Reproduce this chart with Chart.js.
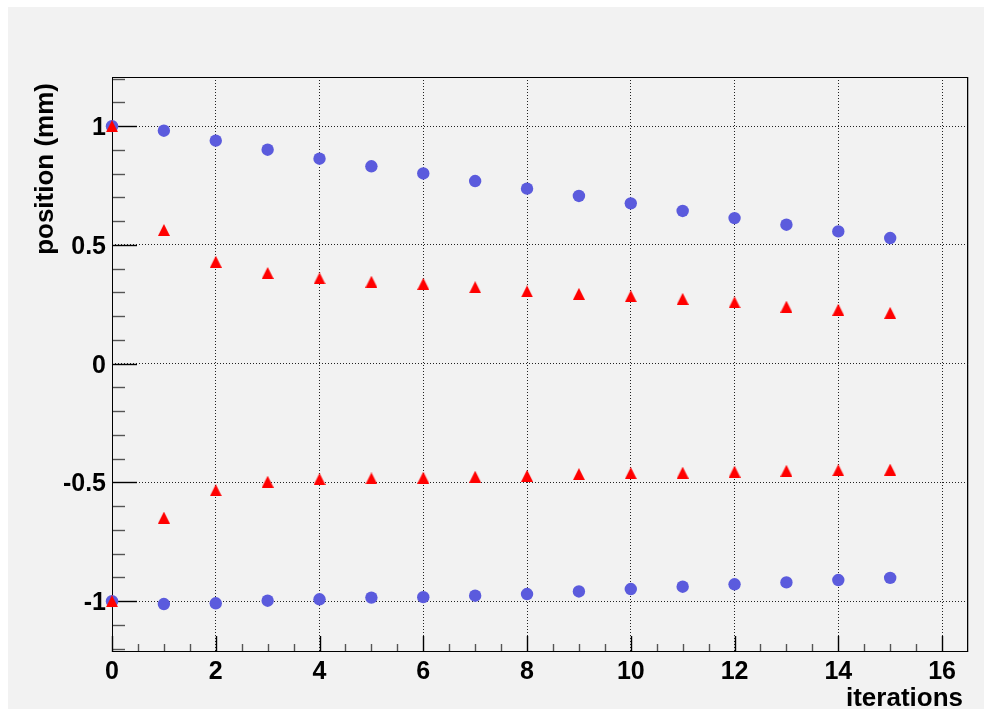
<!DOCTYPE html>
<html>
<head>
<meta charset="utf-8">
<script src="https://cdn.jsdelivr.net/npm/chart.js@4/dist/chart.umd.min.js"></script>
<style>
  html, body { margin: 0; padding: 0; background: #ffffff; }
  canvas { display: block; }
</style>
</head>
<body>
<canvas id="c" width="984" height="710"></canvas>
<script>
// Iteration index on the x axis
const iterations = [0, 1, 2, 3, 4, 5, 6, 7, 8, 9, 10, 11, 12, 13, 14, 15];

// Blue circles: outer pair of positions (mm)
const circlesUpper = [1.000, 0.981, 0.939, 0.901, 0.863, 0.831, 0.801, 0.769, 0.737, 0.706, 0.675, 0.643, 0.613, 0.585, 0.557, 0.529];
const circlesLower = [-1.000, -1.012, -1.009, -0.998, -0.992, -0.985, -0.983, -0.977, -0.970, -0.959, -0.949, -0.939, -0.929, -0.921, -0.911, -0.902];

// Red triangles: inner pair of positions (mm)
const trianglesUpper = [1.000, 0.563, 0.429, 0.382, 0.359, 0.345, 0.336, 0.322, 0.304, 0.294, 0.284, 0.273, 0.258, 0.240, 0.227, 0.214];
const trianglesLower = [-1.000, -0.648, -0.533, -0.497, -0.486, -0.483, -0.480, -0.476, -0.472, -0.465, -0.461, -0.459, -0.455, -0.451, -0.449, -0.446];

// Axis ticks and labels
const xTickValues = [0, 2, 4, 6, 8, 10, 12, 14, 16];
const xTickLabels = ['0', '2', '4', '6', '8', '10', '12', '14', '16'];
const yTickValues = [-1, -0.5, 0, 0.5, 1];
const yTickLabels = ['-1', '-0.5', '0', '0.5', '1'];
const xTitle = 'iterations';
const yTitle = 'position (mm)';

const FONT_FAMILY = "'Liberation Sans', Arial, Helvetica, sans-serif";
const BLUE = '#5b5bdd';
const RED = '#ff0000';

function toPoints(values) {
  return iterations.map((x, i) => ({ x: x, y: values[i] }));
}

// Upward triangle marker, centred on its bounding box
function makeTriangle(size, color) {
  const cv = document.createElement('canvas');
  cv.width = size;
  cv.height = size;
  const c = cv.getContext('2d');
  c.fillStyle = color;
  c.beginPath();
  c.moveTo(size / 2, 0);
  c.lineTo(size, size);
  c.lineTo(0, size);
  c.closePath();
  c.fill();
  return cv;
}
const triangleMarker = makeTriangle(12, RED);

// Page background, frame, inward tick marks and axis titles
const framePlugin = {
  id: 'frame',
  beforeDraw(chart) {
    const ctx = chart.ctx;
    ctx.save();
    ctx.fillStyle = '#ffffff';
    ctx.fillRect(0, 0, chart.width, chart.height);
    ctx.fillStyle = '#f2f2f2';
    ctx.fillRect(8, 7, chart.width - 8, chart.height - 8);
    ctx.restore();
  },
  beforeDatasetsDraw(chart) {
    const ctx = chart.ctx;
    const a = chart.chartArea;
    const xs = chart.scales.x;
    const ys = chart.scales.y;
    ctx.save();

    // y-axis ticks (major every 0.5, minor every 0.1)
    ctx.lineWidth = 1.4;
    for (let k = -12; k <= 12; k++) {
      const v = k / 10;
      const py = Math.round(ys.getPixelForValue(v)) + 0.5;
      if (py < a.top || py > a.bottom) continue;
      const major = k % 5 === 0;
      ctx.strokeStyle = major ? '#000000' : '#555555';
      ctx.beginPath();
      ctx.moveTo(a.left, py);
      ctx.lineTo(a.left + (major ? 25 : 13), py);
      ctx.stroke();
    }
    // x-axis ticks (major every 2, minor every 0.5)
    for (let k = 0; k <= 33; k++) {
      const v = k / 2;
      const px = Math.round(xs.getPixelForValue(v)) + 0.5;
      if (px < a.left || px > a.right) continue;
      const major = k % 4 === 0;
      ctx.strokeStyle = major ? '#000000' : '#555555';
      ctx.beginPath();
      ctx.moveTo(px, a.bottom);
      ctx.lineTo(px, a.bottom - (major ? 16 : 8));
      ctx.stroke();
    }

    // frame
    ctx.lineWidth = 1;
    ctx.strokeStyle = '#000000';
    ctx.strokeRect(a.left + 0.5, a.top + 0.5, a.right - a.left - 1, a.bottom - a.top - 1);
    ctx.strokeStyle = '#b0b0b0';
    ctx.beginPath();
    ctx.moveTo(a.right + 0.5, a.top);
    ctx.lineTo(a.right + 0.5, a.bottom);
    ctx.stroke();
    ctx.restore();
  },
  afterDraw(chart) {
    const ctx = chart.ctx;
    const a = chart.chartArea;
    ctx.save();
    ctx.fillStyle = '#000000';
    ctx.font = 'bold 26px ' + FONT_FAMILY;
    ctx.textBaseline = 'alphabetic';
    ctx.textAlign = 'right';
    ctx.fillText(xTitle, a.right - 5, 706);
    ctx.translate(53, a.top + 6);
    ctx.rotate(-Math.PI / 2);
    ctx.fillText(yTitle, 0, 0);
    ctx.restore();
  }
};

const tickFont = { family: FONT_FAMILY, size: 25, weight: 'bold' };

new Chart(document.getElementById('c'), {
  type: 'scatter',
  data: {
    datasets: [
      {
        label: 'inner upper',
        data: toPoints(trianglesUpper),
        pointStyle: triangleMarker,
        pointRadius: 6,
        backgroundColor: RED,
        borderColor: RED,
        order: 0,
        clip: false
      },
      {
        label: 'inner lower',
        data: toPoints(trianglesLower),
        pointStyle: triangleMarker,
        pointRadius: 6,
        backgroundColor: RED,
        borderColor: RED,
        order: 0,
        clip: false
      },
      {
        label: 'outer upper',
        data: toPoints(circlesUpper),
        pointStyle: 'circle',
        pointRadius: 6.2,
        borderWidth: 0,
        backgroundColor: BLUE,
        borderColor: BLUE,
        order: 1,
        clip: false
      },
      {
        label: 'outer lower',
        data: toPoints(circlesLower),
        pointStyle: 'circle',
        pointRadius: 6.2,
        borderWidth: 0,
        backgroundColor: BLUE,
        borderColor: BLUE,
        order: 1,
        clip: false
      }
    ]
  },
  options: {
    responsive: false,
    animation: false,
    devicePixelRatio: 1,
    layout: { padding: { top: 77, right: 16, left: 0, bottom: 0 } },
    plugins: {
      legend: { display: false },
      tooltip: { enabled: false },
      title: { display: false }
    },
    scales: {
      x: {
        type: 'linear',
        min: 0,
        max: 16.5,
        afterBuildTicks(scale) {
          scale.ticks = xTickValues.map(v => ({ value: v }));
        },
        afterFit(scale) { scale.height = 58; },
        ticks: {
          font: tickFont,
          color: '#000000',
          padding: 5,
          maxRotation: 0,
          autoSkip: false,
          callback: (v) => xTickLabels[xTickValues.indexOf(v)]
        },
        grid: { color: '#222222', lineWidth: 1, drawTicks: false },
        border: { display: false, dash: [1, 2] }
      },
      y: {
        type: 'linear',
        min: -1.214,
        max: 1.207,
        afterBuildTicks(scale) {
          scale.ticks = yTickValues.map(v => ({ value: v }));
        },
        afterFit(scale) { scale.width = 112; },
        ticks: {
          font: tickFont,
          color: '#000000',
          padding: 6,
          labelOffset: 2,
          autoSkip: false,
          callback: (v) => yTickLabels[yTickValues.indexOf(v)]
        },
        grid: { color: '#222222', lineWidth: 1, drawTicks: false },
        border: { display: false, dash: [1, 2] }
      }
    }
  },
  plugins: [framePlugin]
});
</script>
</body>
</html>
